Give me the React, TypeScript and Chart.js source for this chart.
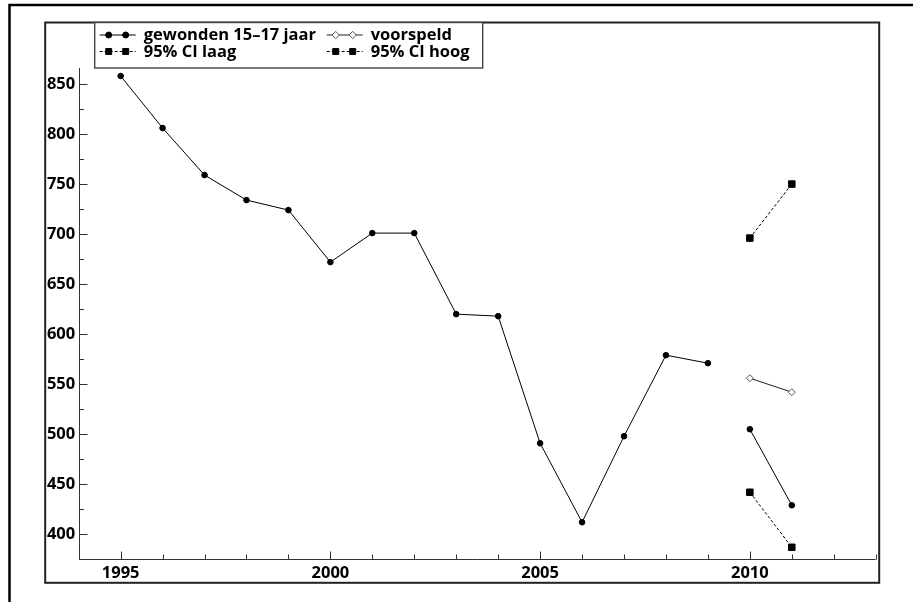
import React, { useEffect, useRef } from "react";
import { Chart, registerables } from "chart.js";

Chart.register(...registerables);

// ---- data ----
const years = [1995, 1996, 1997, 1998, 1999, 2000, 2001, 2002, 2003, 2004, 2005, 2006, 2007, 2008, 2009, 2010, 2011];
const observed = [858, 806, 759, 734, 724, 672, 701, 701, 620, 618, 491, 412, 498, 579, 571, 505, 429];
const forecastYears = [2010, 2011];
const predicted = [556, 542];
const ciLow = [442, 387];
const ciHigh = [696, 750];
const xTickLabels = [1995, 2000, 2005, 2010];
const yTickLabels = [400, 450, 500, 550, 600, 650, 700, 750, 800, 850];
const seriesLabels = ["gewonden 15\u201317 jaar", "voorspeld", "95% CI laag", "95% CI hoog"];
const GAP_AFTER_YEAR = 2009;

const X_MIN = 1994;
const X_MAX = 2013;
const Y_MIN = 375;
const Y_MAX = 866;
const X_MINOR_STEP = 1;
const Y_MINOR_STEP = 25;

const FONT_FAMILY = "'Open Sans', 'Liberation Sans', sans-serif";
const FONT_SIZE = 16.5;
const FONT_WEIGHT = 700;

function drawMarker(ctx: CanvasRenderingContext2D, style: string, x: number, y: number, r: number, fill: string, stroke: string) {
  ctx.save();
  ctx.fillStyle = fill;
  ctx.strokeStyle = stroke;
  ctx.lineWidth = 1;
  ctx.setLineDash([]);
  ctx.beginPath();
  if (style === "circle") {
    ctx.arc(x, y, r, 0, Math.PI * 2);
  } else if (style === "rect") {
    const s = Math.SQRT1_2 * r;
    ctx.rect(x - s, y - s, 2 * s, 2 * s);
  } else {
    ctx.moveTo(x - r, y);
    ctx.lineTo(x, y - r);
    ctx.lineTo(x + r, y);
    ctx.lineTo(x, y + r);
    ctx.closePath();
  }
  ctx.fill();
  ctx.stroke();
  ctx.restore();
}

const framePlugin = {
  id: "frame",
  beforeDraw(chart: any) {
    const ctx = chart.ctx as CanvasRenderingContext2D;
    const ca = chart.chartArea;
    ctx.save();
    ctx.fillStyle = "#fff";
    ctx.fillRect(0, 0, chart.width, chart.height);
    // outer frame
    ctx.strokeStyle = "#000";
    ctx.lineWidth = 2.5;
    ctx.beginPath();
    ctx.moveTo(9.5, chart.height + 5);
    ctx.lineTo(9.5, 5);
    ctx.lineTo(chart.width + 5, 5);
    ctx.stroke();
    // inner box
    ctx.strokeStyle = "#222";
    ctx.lineWidth = 2;
    const bl = ca.left - 33.5;
    const bt = ca.top - 45.5;
    const br = ca.right + 3.5;
    const bb = ca.bottom + 23.5;
    ctx.strokeRect(bl, bt, br - bl, bb - bt);
    ctx.restore();
  },
  afterDraw(chart: any) {
    const ctx = chart.ctx as CanvasRenderingContext2D;
    const ca = chart.chartArea;
    const xs = chart.scales.x;
    const ys = chart.scales.y;
    ctx.save();
    ctx.strokeStyle = "#333";
    ctx.lineWidth = 1;
    ctx.setLineDash([]);
    const L = Math.round(ca.left) + 0.5;
    const B = Math.round(ca.bottom) + 0.5;
    ctx.beginPath();
    ctx.moveTo(L, ca.top);
    ctx.lineTo(L, B);
    ctx.lineTo(ca.right, B);
    ctx.stroke();
    ctx.beginPath();
    for (let v = X_MIN; v <= X_MAX; v += X_MINOR_STEP) {
      const px = Math.round(xs.getPixelForValue(v)) + 0.5;
      const len = v % 5 === 0 ? 8 : 5;
      ctx.moveTo(px, B);
      ctx.lineTo(px, B - len);
    }
    for (let v = Y_MIN; v <= Y_MAX; v += Y_MINOR_STEP) {
      const py = Math.round(ys.getPixelForValue(v)) + 0.5;
      const len = v % 50 === 0 ? 8 : 4.5;
      ctx.moveTo(L, py);
      ctx.lineTo(L + len, py);
    }
    ctx.stroke();

    // legend
    const lx = ca.left + 16;
    const ly = ca.top - 45.5;
    const lw = 388;
    const lh = 45.5;
    ctx.fillStyle = "#fff";
    ctx.fillRect(lx, ly, lw, lh);
    ctx.strokeStyle = "#444";
    ctx.lineWidth = 1.4;
    ctx.strokeRect(lx, ly, lw, lh);
    const colSym = [lx + 5, lx + 232];
    const colText = [lx + 49, lx + 276];
    const rowY = [ly + 12.5, ly + 29];
    ctx.font = `${FONT_WEIGHT} ${FONT_SIZE}px ${FONT_FAMILY}`;
    ctx.textBaseline = "middle";
    ctx.textAlign = "left";
    chart.data.datasets.forEach((ds: any, i: number) => {
      const col = i % 2;
      const row = Math.floor(i / 2);
      const sx = colSym[col];
      const y = rowY[row];
      ctx.save();
      ctx.strokeStyle = ds.borderColor;
      ctx.lineWidth = 1;
      ctx.setLineDash(ds.borderDash || []);
      ctx.beginPath();
      ctx.moveTo(sx, y);
      ctx.lineTo(sx + 36, y);
      ctx.stroke();
      ctx.restore();
      const r = ds.pointStyle === "circle" ? 3 : ds.pointStyle === "rect" ? 4.2 : 3.6;
      drawMarker(ctx, ds.pointStyle, sx + 9, y, r, ds.pointBackgroundColor, ds.pointBorderColor);
      drawMarker(ctx, ds.pointStyle, sx + 26, y, r, ds.pointBackgroundColor, ds.pointBorderColor);
      ctx.fillStyle = "#000";
      ctx.fillText(ds.label, colText[col], y + 0.5);
    });
    ctx.restore();
  },
};

export default function App() {
  const ref = useRef<HTMLCanvasElement | null>(null);
  useEffect(() => {
    if (!ref.current) return;
    const tickFont = { family: FONT_FAMILY, size: FONT_SIZE, weight: FONT_WEIGHT as any };
    const chart = new Chart(ref.current, {
      type: "line",
      data: {
        datasets: [
          {
            label: seriesLabels[0],
            data: years.map((yr, i) => ({ x: yr, y: observed[i] })),
            borderColor: "#000",
            borderWidth: 1,
            pointStyle: "circle",
            pointRadius: 2.8,
            pointBorderWidth: 1,
            pointBackgroundColor: "#000",
            pointBorderColor: "#000",
            segment: {
              borderColor: (c: any) => (c.p0.parsed.x === GAP_AFTER_YEAR ? "rgba(0,0,0,0)" : "#000"),
            },
          },
          {
            label: seriesLabels[1],
            data: forecastYears.map((yr, i) => ({ x: yr, y: predicted[i] })),
            borderColor: "#222",
            borderWidth: 1,
            pointStyle: "rectRot",
            pointRadius: 3.5,
            pointBorderWidth: 1,
            pointBackgroundColor: "#fff",
            pointBorderColor: "#555",
          },
          {
            label: seriesLabels[2],
            data: forecastYears.map((yr, i) => ({ x: yr, y: ciLow[i] })),
            borderColor: "#000",
            borderWidth: 1,
            borderDash: [3, 2],
            pointStyle: "rect",
            pointRadius: 4.6,
            pointBorderWidth: 1,
            pointBackgroundColor: "#000",
            pointBorderColor: "#000",
          },
          {
            label: seriesLabels[3],
            data: forecastYears.map((yr, i) => ({ x: yr, y: ciHigh[i] })),
            borderColor: "#000",
            borderWidth: 1,
            borderDash: [3, 2],
            pointStyle: "rect",
            pointRadius: 4.6,
            pointBorderWidth: 1,
            pointBackgroundColor: "#000",
            pointBorderColor: "#000",
          },
        ] as any,
      },
      options: {
        animation: false,
        responsive: false,
        devicePixelRatio: 1,
        layout: { padding: { left: 45, top: 68, right: 37.3, bottom: 22.7 } },
        plugins: { legend: { display: false }, tooltip: { enabled: false } },
        scales: {
          x: {
            type: "linear",
            min: X_MIN,
            max: X_MAX,
            grid: { display: false, drawTicks: false },
            border: { display: false },
            afterBuildTicks: (s: any) => {
              s.ticks = xTickLabels.map((v) => ({ value: v }));
            },
            afterFit: (s: any) => {
              s.height = 20;
            },
            ticks: {
              autoSkip: false,
              maxRotation: 0,
              padding: 4,
              color: "#000",
              font: tickFont,
              callback: (v: any) => String(v),
            },
          },
          y: {
            type: "linear",
            min: Y_MIN,
            max: Y_MAX,
            grid: { display: false, drawTicks: false },
            border: { display: false },
            afterBuildTicks: (s: any) => {
              s.ticks = yTickLabels.map((v) => ({ value: v }));
            },
            afterFit: (s: any) => {
              s.width = 33.7;
            },
            ticks: {
              padding: 3.5,
              color: "#000",
              font: tickFont,
              callback: (v: any) => String(v),
            },
          },
        },
      } as any,
      plugins: [framePlugin],
    });
    return () => chart.destroy();
  }, []);
  return (
    <div style={{ position: "fixed", left: 0, top: 0, width: 913, height: 602, background: "#fff" }}>
      <canvas ref={ref} width={913} height={602} style={{ display: "block" }} />
    </div>
  );
}
